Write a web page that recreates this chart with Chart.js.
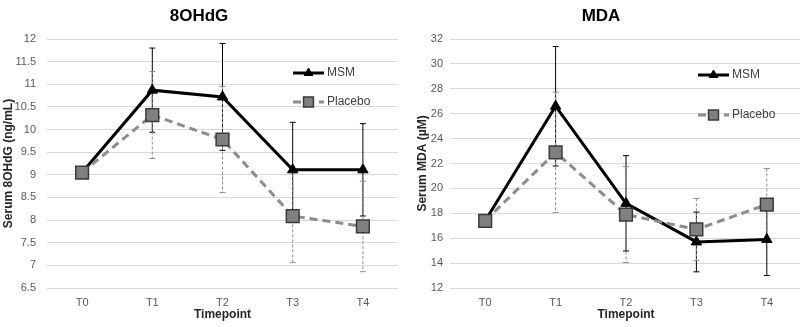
<!DOCTYPE html>
<html>
<head>
<meta charset="utf-8">
<script src="https://cdn.jsdelivr.net/npm/chart.js@4"></script>
<style>
  html, body { margin: 0; padding: 0; background: #fff; overflow: hidden; }
  #wrap { position: relative; width: 800px; height: 327px; overflow: hidden; }
  #left { position: absolute; left: 0; top: 0; }
  #right { position: absolute; left: 400px; top: 0; }
</style>
</head>
<body>
<div id="wrap">
  <canvas id="left" width="400" height="327"></canvas>
  <canvas id="right" width="402" height="327"></canvas>
</div>
<script>
const timepoints = ['T0', 'T1', 'T2', 'T3', 'T4'];

// 8OHdG (ng/mL)
const ohdgMsm = [9.05, 10.87, 10.72, 9.11, 9.11];
const ohdgMsmErr = [0, 0.93, 1.18, 1.05, 1.02];
const ohdgPlacebo = [9.05, 10.32, 9.78, 8.09, 7.86];
const ohdgPlaceboErr = [0, 0.96, 1.17, 1.03, 1.0];

// MDA (µM)
const mdaMsm = [17.4, 26.6, 18.8, 15.7, 15.9];
const mdaMsmErr = [0, 4.8, 3.83, 2.4, 2.9];
const mdaPlacebo = [17.4, 22.9, 17.9, 16.7, 18.7];
const mdaPlaceboErr = [0, 4.83, 3.85, 2.5, 2.9];

const FONT = "'Liberation Sans', Arial, sans-serif";
const GRAY = '#8c8c8c';

// vertical +/- error bars with caps, drawn under the lines
const errorBars = {
  id: 'errorBars',
  beforeDatasetsDraw(chart) {
    const ctx = chart.ctx;
    const x = chart.scales.x, y = chart.scales.y;
    chart.data.datasets.forEach(ds => {
      if (!ds.errors) return;
      ctx.save();
      ctx.strokeStyle = ds.errColor;
      ctx.lineWidth = 1;
      ds.data.forEach((v, i) => {
        const e = ds.errors[i];
        if (!e) return;
        const px = x.getPixelForValue(i);
        const top = y.getPixelForValue(v + e);
        const bot = y.getPixelForValue(v - e);
        ctx.setLineDash(ds.errDash || []);
        ctx.beginPath();
        ctx.moveTo(px, top); ctx.lineTo(px, bot);
        ctx.stroke();
        ctx.setLineDash([]);
        ctx.beginPath();
        ctx.moveTo(px - 3, top); ctx.lineTo(px + 3, top);
        ctx.moveTo(px - 3, bot); ctx.lineTo(px + 3, bot);
        ctx.stroke();
      });
      ctx.restore();
    });
  }
};

// legend placed inside the plot, top right
const insideLegend = {
  id: 'insideLegend',
  afterDraw(chart, args, opts) {
    const ctx = chart.ctx;
    const area = chart.chartArea;
    const x0 = area.right - opts.dx;
    chart.data.datasets.forEach((ds, i) => {
      const yy = area.top + opts.rows[i];
      ctx.save();
      ctx.strokeStyle = ds.borderColor;
      ctx.lineWidth = ds.borderWidth;
      ctx.setLineDash(ds.borderDash || []);
      ctx.beginPath();
      ctx.moveTo(x0, yy); ctx.lineTo(x0 + 31, yy);
      ctx.stroke();
      ctx.setLineDash([]);
      ctx.fillStyle = ds.pointBackgroundColor;
      ctx.strokeStyle = ds.pointBorderColor;
      ctx.lineWidth = ds.pointBorderWidth;
      Chart.helpers.drawPoint(ctx, {
        pointStyle: ds.pointStyle,
        radius: ds.pointStyle === 'rect' ? 7 : 5,
        borderWidth: ds.pointBorderWidth
      }, x0 + 15.5, yy);
      ctx.fillStyle = '#404040';
      ctx.font = '12px ' + FONT;
      ctx.textBaseline = 'middle';
      ctx.fillText(ds.label, x0 + 34, yy);
      ctx.restore();
    });
  }
};

function makeChart(id, title, yTitle, yMin, yMax, step, msm, msmErr, placebo, placeboErr, opt) {
  return new Chart(document.getElementById(id), {
    type: 'line',
    data: {
      labels: timepoints,
      datasets: [{
        label: 'MSM',
        data: msm,
        errors: msmErr,
        errColor: '#000',
        order: 2,
        borderColor: '#000',
        borderWidth: 3,
        pointStyle: 'triangle',
        pointRadius: 6,
        pointBackgroundColor: '#000',
        pointBorderColor: '#000',
        pointBorderWidth: 1,
        tension: 0
      }, {
        label: 'Placebo',
        data: placebo,
        errors: placeboErr,
        errColor: GRAY,
        errDash: [3, 2],
        order: 1,
        borderColor: GRAY,
        borderWidth: 3,
        borderDash: [8, 5],
        pointStyle: 'rect',
        pointRadius: 9,
        pointBackgroundColor: '#808080',
        pointBorderColor: '#3a3a3a',
        pointBorderWidth: 1.5,
        tension: 0
      }]
    },
    options: {
      responsive: false,
      animation: false,
      layout: { autoPadding: false, padding: { right: opt.padRight } },
      plugins: {
        legend: { display: false },
        tooltip: { enabled: false },
        title: {
          display: true,
          text: title,
          color: '#000',
          font: { family: FONT, size: 17, weight: 'bold' },
          padding: { top: 6, bottom: 12.6 }
        },
        insideLegend: opt.legend
      },
      scales: {
        x: {
          offset: true,
          grid: { display: false, drawTicks: false },
          border: { display: false },
          ticks: { color: '#595959', font: { family: FONT, size: 11 }, padding: 8 },
          title: {
            display: true,
            text: 'Timepoint',
            color: '#262626',
            font: { family: FONT, size: 12, weight: 'bold' },
            padding: { top: 0, bottom: 5 }
          },
          afterFit(s) { s.height = 39; s.paddingLeft = 0; s.paddingRight = 0; }
        },
        y: {
          min: yMin,
          max: yMax,
          grid: { color: '#d9d9d9', drawTicks: false },
          border: { display: false },
          ticks: {
            stepSize: step,
            color: '#595959',
            font: { family: FONT, size: 11 },
            padding: opt.tickPad,
            callback: v => String(Math.round(v * 10) / 10)
          },
          title: {
            display: true,
            text: yTitle,
            color: '#262626',
            font: { family: FONT, size: 12, weight: 'bold' },
            padding: { top: opt.titlePad, bottom: 0 }
          },
          afterFit(s) { s.width = opt.yWidth; s.paddingTop = 0; s.paddingBottom = 0; }
        }
      }
    },
    plugins: [errorBars, insideLegend]
  });
}

makeChart('left', '8OHdG', 'Serum 8OHdG (ng/mL)', 6.5, 12, 0.5,
  ohdgMsm, ohdgMsmErr, ohdgPlacebo, ohdgPlaceboErr,
  { padRight: 2, yWidth: 47, tickPad: 11, titlePad: 1.3, legend: { dx: 105, rows: [34, 63] } });

makeChart('right', 'MDA', 'Serum MDA (µM)', 12, 32, 2,
  mdaMsm, mdaMsmErr, mdaPlacebo, mdaPlaceboErr,
  { padRight: 0, yWidth: 50, tickPad: 7, titlePad: 15, legend: { dx: 104, rows: [36, 76] } });
</script>
</body>
</html>
